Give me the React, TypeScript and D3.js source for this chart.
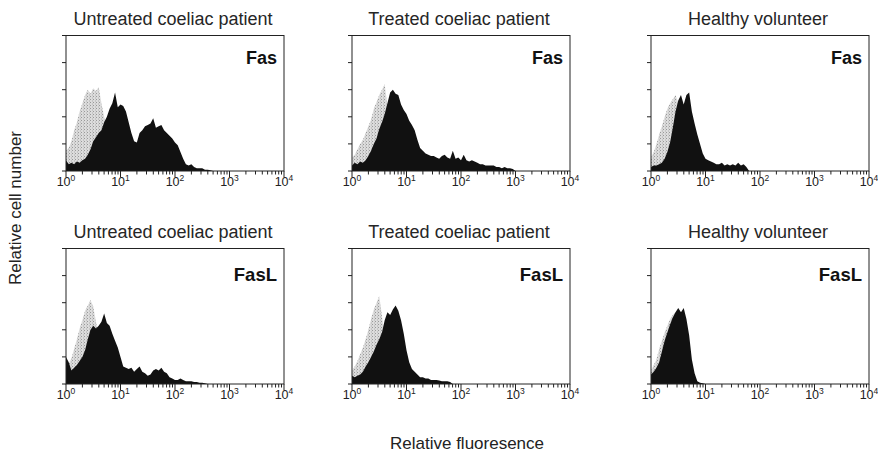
import React from "react";
import * as d3 from "d3";

// ---- categories / labels ----
const columnTitles = ["Untreated coeliac patient", "Treated coeliac patient", "Healthy volunteer"];
const rowMarkers = ["Fas", "FasL"];
const decadeExponents = [0, 1, 2, 3, 4];
const yAxisTitle = "Relative cell number";
const xAxisTitle = "Relative fluoresence";

// histogram channels: each value is one bin, BIN decades wide, starting at 10^0
const BIN = 0.05;

// ---- Fas row (grey = isotype control, black = Fas staining) ----
const fasUntreatedCtrl = [15, 17, 22, 30, 36, 44, 50, 56, 60, 57, 61, 59, 62, 50, 40, 30, 20, 12, 6, 3, 1, 0];
const fasUntreated = [8, 5, 6, 5, 7, 6, 8, 9, 12, 16, 22, 25, 28, 30, 36, 40, 46, 50, 58, 47, 49, 48, 44, 36, 28, 22, 21, 28, 30, 33, 34, 35, 39, 32, 33, 34, 30, 28, 26, 24, 21, 19, 14, 9, 5, 4, 5, 3, 2, 2, 2, 1, 1, 0.5, 0];
const fasTreatedCtrl = [10, 12, 16, 20, 23, 28, 33, 38, 46, 51, 56, 60, 64, 48, 30, 15, 6, 2, 0];
const fasTreated = [4, 6, 5, 7, 6, 8, 11, 15, 20, 24, 31, 36, 42, 50, 58, 60, 57, 56, 49, 45, 42, 37, 34, 30, 23, 17, 15, 13, 12, 11, 11, 10, 9, 11, 12, 10, 9, 15, 9, 10, 8, 12, 8, 7, 8, 7, 6, 5, 5, 4, 4, 4, 4, 3, 3, 2, 3, 2, 2, 1.5, 0];
const fasHealthyCtrl = [10, 14, 20, 27, 33, 40, 46, 50, 53, 56, 50, 40, 25, 12, 5, 1, 0];
const fasHealthy = [3, 4, 4, 5, 6, 9, 14, 21, 32, 44, 52, 56, 49, 56, 58, 44, 35, 27, 20, 13, 9, 8, 7, 6, 5, 5, 6, 4, 5, 4, 5, 4, 6, 4, 5, 3, 0];

// ---- FasL row ----
const faslUntreatedCtrl = [12, 15, 19, 26, 33, 41, 47, 54, 58, 62, 57, 46, 35, 20, 8, 2, 0];
const faslUntreated = [20, 16, 10, 12, 14, 17, 20, 25, 33, 40, 43, 41, 43, 46, 52, 45, 43, 37, 32, 27, 20, 13, 12, 11, 12, 9, 11, 13, 9, 8, 6, 7, 10, 11, 10, 12, 9, 8, 5, 4, 3, 3, 4, 3, 2, 2, 2, 1.5, 1.5, 1, 1, 0.5, 0];
const faslTreatedCtrl = [10, 13, 17, 22, 27, 33, 40, 48, 55, 60, 65, 50, 35, 18, 6, 1, 0];
const faslTreated = [6, 5, 6, 7, 9, 13, 16, 20, 24, 29, 33, 38, 47, 53, 51, 55, 58, 54, 47, 37, 25, 16, 11, 9, 7, 5, 5, 4, 4, 3, 3, 3, 2.5, 2, 2, 2, 1.5, 0];
const faslHealthyCtrl = [10, 14, 18, 26, 32, 38, 43, 48, 51, 53, 45, 30, 15, 5, 0];
const faslHealthy = [7, 9, 12, 16, 24, 32, 38, 44, 49, 53, 56, 53, 56, 48, 36, 18, 8, 2, 1, 0.5, 0];

const controls = [
  [fasUntreatedCtrl, fasTreatedCtrl, fasHealthyCtrl],
  [faslUntreatedCtrl, faslTreatedCtrl, faslHealthyCtrl],
];
const stains = [
  [fasUntreated, fasTreated, fasHealthy],
  [faslUntreated, faslTreated, faslHealthy],
];

// ---- layout ----
const W = 878;
const H = 457;
const colLeft = [66, 352, 651];
const panelW = 218;
const rowTop = [35.5, 248.5];
const panelH = 135.5;
const FONT = "'Liberation Sans', Arial, Helvetica, sans-serif";

function toPoints(vals: number[]): [number, number][] {
  return vals.map((v, i) => [Math.pow(10, i * BIN), v] as [number, number]);
}

function Panel({ row, col }: { row: number; col: number }) {
  const left = colLeft[col];
  const top = rowTop[row];
  const x = d3.scaleLog().domain([1, 1e4]).range([left, left + panelW]);
  const y = d3.scaleLinear().domain([0, 100]).range([top + panelH, top]);
  const area = d3
    .area<[number, number]>()
    .x((d) => x(d[0]))
    .y0(y(0))
    .y1((d) => y(d[1]))
    .curve(d3.curveLinear);
  const clipId = `clip-${row}-${col}`;
  const bottom = top + panelH;
  const minor = x.ticks().filter((t) => !decadeExponents.some((e) => Math.abs(Math.log10(t) - e) < 1e-9));
  const isL = row === 1;
  return (
    <g>
      <defs>
        <clipPath id={clipId}>
          <rect x={left} y={top} width={panelW} height={panelH} />
        </clipPath>
      </defs>
      <text
        x={left + panelW / 2 - 2}
        y={top - 10.5}
        textAnchor="middle"
        fontSize={18}
        fill="#262626"
        fontFamily={FONT}
      >
        {columnTitles[col]}
      </text>
      <g clipPath={`url(#${clipId})`}>
        <path d={area(toPoints(controls[row][col])) || ""} fill="url(#stipple)" />
        <path d={area(toPoints(stains[row][col])) || ""} fill="#111" />
      </g>
      <rect x={left} y={top} width={panelW} height={panelH} fill="none" stroke="#222" strokeWidth={1} />
      {y.ticks(5).map((t) => (
        <line key={"y" + t} x1={left - 4} x2={left} y1={y(t)} y2={y(t)} stroke="#222" strokeWidth={1} />
      ))}
      {decadeExponents.map((e) => (
        <line key={"M" + e} x1={x(Math.pow(10, e))} x2={x(Math.pow(10, e))} y1={bottom} y2={bottom + 6} stroke="#222" strokeWidth={1} />
      ))}
      {minor.map((t) => (
        <line key={"m" + t} x1={x(t)} x2={x(t)} y1={bottom} y2={bottom + 3.5} stroke="#222" strokeWidth={1} />
      ))}
      {decadeExponents.map((e) => (
        <text
          key={"l" + e}
          x={x(Math.pow(10, e))}
          y={bottom + 14.5}
          textAnchor="middle"
          fontSize={12.5}
          fill="#222"
          fontFamily={FONT}
        >
          10
          <tspan dy={-5} fontSize={8.5}>
            {e}
          </tspan>
        </text>
      ))}
      <text
        x={left + panelW - 7}
        y={top + (isL ? 32 : 28)}
        textAnchor="end"
        fontSize={isL ? 18.5 : 18}
        fontWeight="bold"
        fill="#111"
        fontFamily={FONT}
      >
        {rowMarkers[row]}
      </text>
    </g>
  );
}

export default function App() {
  return (
    <div style={{ position: "absolute", left: 0, top: 0, width: W, height: H, background: "#fff" }}>
      <svg width={W} height={H} viewBox={`0 0 ${W} ${H}`} style={{ display: "block" }}>
        <defs>
          <pattern id="stipple" width={3} height={3} patternUnits="userSpaceOnUse">
            <rect width={3} height={3} fill="#dcdcdc" />
            <rect x={0} y={0} width={1} height={1} fill="#999" />
            <rect x={2} y={1.5} width={1} height={1} fill="#b0b0b0" />
          </pattern>
        </defs>
        <rect width={W} height={H} fill="#fff" />
        {[0, 1].map((r) => [0, 1, 2].map((c) => <Panel key={`${r}-${c}`} row={r} col={c} />))}
        <text
          transform={`translate(21,${208}) rotate(-90)`}
          textAnchor="middle"
          fontSize={17}
          fill="#222"
          fontFamily={FONT}
        >
          {yAxisTitle}
        </text>
        <text x={467} y={449} textAnchor="middle" fontSize={17} fill="#222" fontFamily={FONT}>
          {xAxisTitle}
        </text>
      </svg>
    </div>
  );
}
